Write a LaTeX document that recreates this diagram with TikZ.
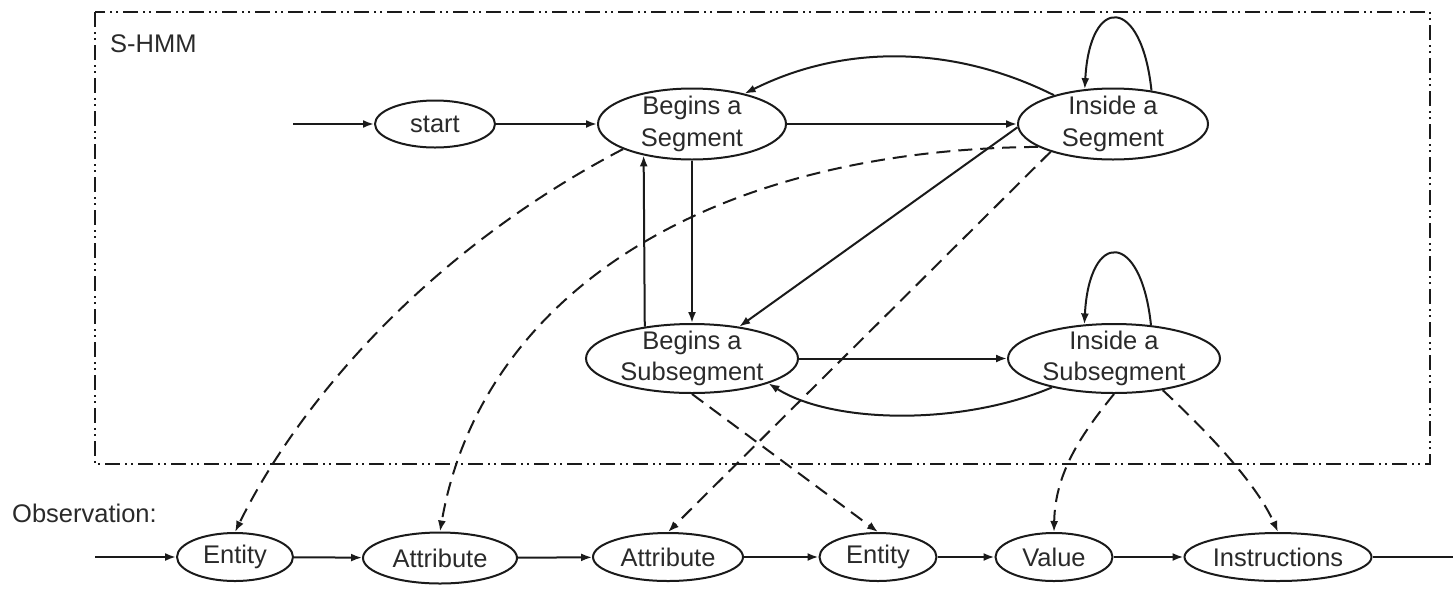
\documentclass[tikz,border=0pt]{standalone}
\usepackage{fontspec}
\setmainfont{Liberation Sans}
\usetikzlibrary{shapes.geometric,arrows.meta}
\definecolor{ink}{HTML}{1A1A1A}
\definecolor{txt}{HTML}{2A2A2A}
\begin{document}
\begin{tikzpicture}[x=1pt,y=-1pt,
  >={Latex[length=11pt,width=8pt]},
  state/.style={ellipse,draw=ink,line width=2pt,inner sep=-20pt,
    text=txt,align=center,font=\fontsize{25.5}{31.5}\selectfont},
  obs/.style={state,minimum height=48pt},
  edge/.style={draw=ink,line width=2pt,->},
  emit/.style={draw=ink,line width=2pt,->,dash pattern=on 14pt off 8pt},
  frame/.style={draw=ink,line width=2pt,
    dash pattern=on 15pt off 5pt on 2pt off 4pt on 2pt off 5pt},
  caption/.style={text=txt,font=\fontsize{25.5}{31.5}\selectfont,inner sep=0pt}]
\useasboundingbox (0,0) rectangle (1453,590);

% model frame and captions
\draw[frame] (95,12) rectangle (1430,464);
\node[caption,anchor=base west] (hmmlabel) at (110,52) {S-HMM};
\node[caption,anchor=base west] (obslabel) at (12,522) {Observation:};

% hidden states
\node[state,minimum width=120pt,minimum height=47pt] (start) at (435,124) {start};
\node[state,minimum width=188pt,minimum height=71pt] (bseg) at (692,124) {Begins a\\Segment};
\node[state,minimum width=190pt,minimum height=71pt] (iseg) at (1113,124) {Inside a\\Segment};
\node[state,minimum width=212pt,minimum height=69pt] (bsub) at (692,358.5) {Begins a\\Subsegment};
\node[state,minimum width=212pt,minimum height=69pt] (isub) at (1114,358.5) {Inside a\\Subsegment};

% observation sequence
\node[obs,minimum width=116pt] (o1) at (235,557) {Entity};
\node[obs,minimum width=154pt,minimum height=51pt] (o2) at (440,558) {Attribute};
\node[obs,minimum width=150pt] (o3) at (668,557) {Attribute};
\node[obs,minimum width=117pt] (o4) at (878,557) {Entity};
\node[obs,minimum width=117pt] (o5) at (1054,557) {Value};
\node[obs,minimum width=187pt] (o6) at (1278,557) {Instructions};

\coordinate (init) at (293,124);
\coordinate (oin) at (95,557);
\coordinate (oout) at (1453,557);

% transitions
\draw[edge] (init) -- (start);
\draw[edge] (start) -- (bseg);
\draw[edge] (bseg) -- (iseg);
\draw[edge] (bsub) -- (isub);
\draw[edge] (bseg.south) -- (bsub.north);
\draw[edge] (bsub.146.7) -- (bseg.213.2);
\draw[edge] (iseg.182) -- (bsub.34);
\draw[edge] (iseg.154) .. controls +(-100,-50) and +(100,-50) .. (bseg.30);
\draw[edge] (isub.205) .. controls +(-93,39) and +(63,40) .. (bsub.342);
\draw[edge] (iseg.41.5) .. controls +(-10,-95) and +(5,-95) .. (iseg.129.5);
\draw[edge] (isub.42) .. controls +(-10,-95) and +(5,-95) .. (isub.131);

% emissions
\draw[emit] (bseg.200) .. controls (430,250) and (300,400) .. (o1.north);
\draw[emit] (iseg.197.7) .. controls (700,150) and (480,300) .. (o2.north);
\draw[emit] (iseg.204) -- (o3.north);
\draw[emit] (bsub.south) -- (o4.north);
\draw[emit] (isub.south) .. controls (1085,430) and (1055,470) .. (o5.north);
\draw[emit] (isub.-33) .. controls (1200,425) and (1255,480) .. (o6.north);

% observation chain
\draw[edge] (oin) -- (o1);
\draw[edge] (o1) -- (o2);
\draw[edge] (o2) -- (o3);
\draw[edge] (o3) -- (o4);
\draw[edge] (o4) -- (o5);
\draw[edge] (o5) -- (o6);
\draw[draw=ink,line width=2pt] (o6) -- (oout);
\end{tikzpicture}
\end{document}
